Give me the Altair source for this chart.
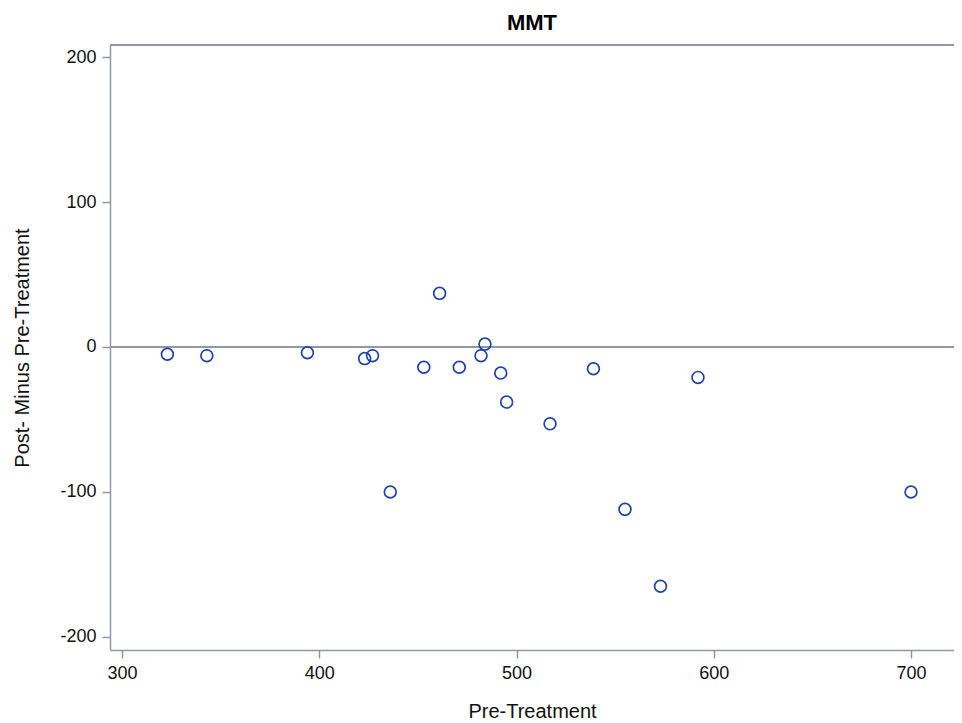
import altair as alt
import pandas as pd

pre = [323, 343, 394, 423, 427, 436, 453, 461, 471, 482, 484, 492, 495, 517, 539, 555, 573, 592, 700]
diff = [-5, -6, -4, -8, -6, -100, -14, 37, -14, -6, 2, -18, -38, -53, -15, -112, -165, -21, -100]
x_ticks = [300, 400, 500, 600, 700]
y_ticks = [-200, -100, 0, 100, 200]

df = pd.DataFrame({"pre": pre, "diff": diff})

W, H = 844, 605
AX = "#8f99a3"
FONT = "Liberation Sans"

base = alt.Chart(df)

points = base.mark_point(shape="circle", filled=False, size=140, strokeWidth=1.7, color="#1F43A8", opacity=1).encode(
    x=alt.X("pre:Q",
            scale=alt.Scale(domain=[293.9, 721.8], nice=False, zero=False),
            axis=alt.Axis(values=x_ticks, title="Pre-Treatment", grid=False, tickSize=8,
                          labelPadding=6, titlePadding=19, labelExpr="datum.value")),
    y=alt.Y("diff:Q",
            scale=alt.Scale(domain=[-209.0, 208.3], nice=False, zero=False),
            axis=alt.Axis(values=y_ticks, title="Post- Minus Pre-Treatment", grid=False, tickSize=8,
                          labelPadding=6, titlePadding=27, labelExpr="datum.value")),
)

zero_line = base.mark_rule(color=AX, strokeWidth=1.5).encode(y=alt.datum(0))

top_border = base.mark_rule(color=AX, strokeWidth=1.5).encode(
    x=alt.value(0), x2=alt.value(W), y=alt.value(0)
)

chart = alt.layer(zero_line, top_border, points).properties(
    width=W, height=H,
    title=alt.TitleParams("MMT", font=FONT, fontSize=22, fontWeight="bold", color="#000", offset=9),
    autosize=alt.AutoSizeParams(type="none"),
    padding={"left": 102, "top": 37, "right": 0, "bottom": 75},
).configure_view(stroke=None).configure_axis(
    domainColor=AX, domainWidth=1.5, tickColor=AX, tickWidth=1.5,
    labelFont=FONT, labelFontSize=18, labelColor="#111",
    titleFont=FONT, titleFontSize=20, titleFontWeight="normal", titleColor="#111",
)

chart.save("out.html", embed_options={"renderer": "svg", "actions": False})
